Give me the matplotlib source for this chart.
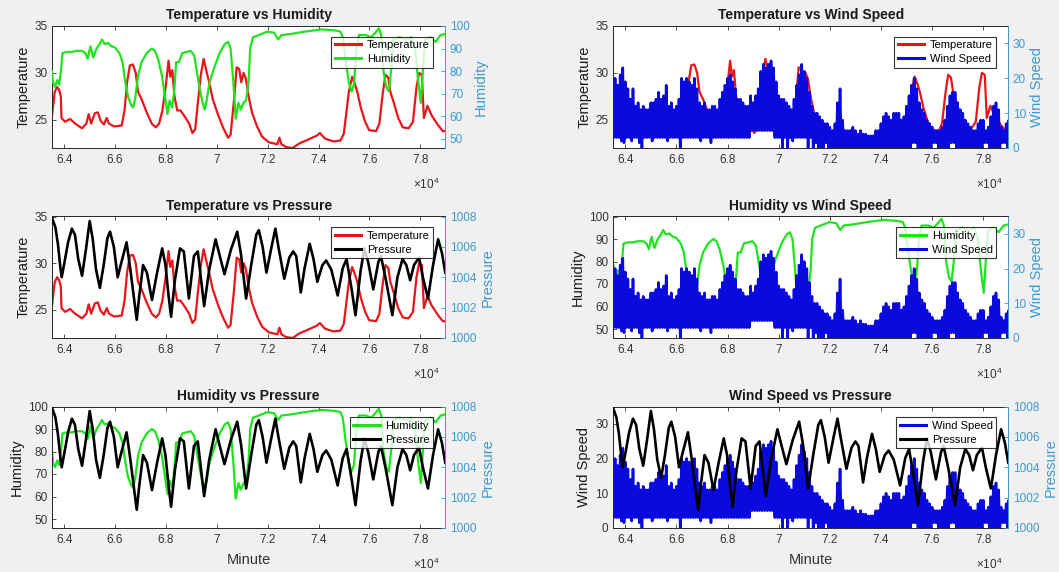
import numpy as np
import matplotlib
matplotlib.use('Agg')
import matplotlib.pyplot as plt

plt.rcParams['font.family'] = ['Liberation Sans', 'DejaVu Sans']
plt.rcParams['mathtext.fontset'] = 'custom'
plt.rcParams['mathtext.rm'] = 'Liberation Sans'
plt.rcParams['mathtext.it'] = 'Liberation Sans:italic'

### data (minutes)

temp_min = [63520, 63626, 63720, 63800, 63866, 63890, 64030, 64230, 64430, 64700,
            64870, 64960, 65060, 65200, 65320, 65430, 65560, 65670, 65760, 65960,
            66260, 66370, 66470, 66580, 66700, 66810, 66900, 67040, 67240, 67440,
            67600, 67730, 67860, 68000, 68100, 68170, 68250, 68330, 68440, 68570,
            68750, 68910, 69040, 69150, 69240, 69370, 69480, 69580, 69680, 69840,
            70040, 70240, 70440, 70540, 70670, 70780, 70880, 70960, 71050, 71140,
            71250, 71380, 71580, 71780, 72050, 72380, 72460, 72540, 72720, 72980,
            73250, 73590, 73920, 74050, 74250, 74590, 74860, 74990, 75080, 75190,
            75320, 75430, 75520, 75660, 75830, 75990, 76260, 76390, 76530, 76630,
            76740, 76820, 76960, 77130, 77310, 77540, 77710, 77850, 77950, 78060,
            78140, 78280, 78440, 78680, 78880, 78980]
temperature = [25.5, 28.0, 28.5, 28.2, 27.5, 25.2, 24.8, 25.1, 24.6, 24.1,
               24.6, 25.6, 24.6, 25.7, 25.8, 24.9, 24.5, 25.2, 24.6, 24.3,
               24.4, 26.0, 29.0, 30.8, 30.9, 30.0, 28.0, 27.2, 25.8, 24.6,
               24.2, 24.6, 26.0, 28.8, 31.3, 29.6, 30.3, 27.6, 26.0, 26.0,
               25.3, 24.6, 23.6, 24.0, 26.5, 29.8, 31.5, 30.3, 29.2, 27.2,
               25.6, 24.2, 23.1, 23.4, 27.0, 30.6, 30.4, 29.0, 30.0, 29.4,
               27.5, 25.8, 24.3, 23.2, 22.6, 22.4, 23.1, 22.4, 22.1, 22.0,
               22.5, 22.9, 23.3, 23.6, 23.0, 22.7, 22.8, 23.5, 25.5, 28.0,
               29.6, 28.8, 28.0, 26.3, 24.8, 23.9, 23.8, 24.6, 28.0, 29.8,
               29.5, 28.0, 26.8, 25.2, 24.2, 24.1, 24.8, 28.5, 30.0, 29.8,
               25.2, 26.5, 25.5, 24.5, 23.8, 23.8]

hum_min = [63520, 63560, 63640, 63720, 63800, 63870, 63930, 64090, 64290, 64490,
           64700, 64830, 64920, 65030, 65140, 65270, 65390, 65480, 65590, 65720,
           65860, 65990, 66170, 66290, 66390, 66500, 66630, 66710, 66790, 66900,
           67040, 67240, 67440, 67570, 67700, 67840, 67970, 68060, 68140, 68240,
           68330, 68400, 68510, 68640, 68800, 68970, 69110, 69210, 69330, 69440,
           69520, 69600, 69710, 69910, 70110, 70310, 70440, 70540, 70650, 70740,
           70850, 70940, 71050, 71150, 71250, 71310, 71420, 71650, 71980, 72250,
           72410, 72540, 72920, 73450, 74120, 74660, 74860, 74950, 75060, 75190,
           75290, 75390, 75490, 75590, 75860, 76060, 76230, 76370, 76460, 76550,
           76660, 76760, 76850, 76940, 77180, 77450, 77650, 77790, 77920, 78020,
           78100, 78190, 78390, 78600, 78800, 78980]
humidity = [80, 75, 73, 76, 74, 80, 88, 88.5, 88.5, 89,
            89, 88, 85.5, 91, 86, 90, 92, 94, 92, 92.5,
            91, 90.5, 88, 84, 76, 69, 65, 64, 68, 78,
            84, 88, 90, 89, 85, 78, 68, 61, 67, 64,
            72, 84, 84, 88, 88.5, 89, 87, 80, 72, 66,
            63, 67, 75, 82, 88, 92, 93, 90, 75, 59,
            66, 63, 66, 67, 76, 90, 95, 96, 97.5, 97,
            94, 96, 96.5, 97.5, 98.5, 98, 97.5, 95, 85, 75,
            71, 74, 90, 96, 96, 95, 97, 99, 96, 80,
            73, 71, 80, 94, 95, 94, 95, 90, 75, 66,
            80, 94, 95, 93, 96, 96.5]

pres_min = [63520, 63650, 63750, 63850, 63900, 64000, 64150, 64300, 64420, 64550,
            64700, 64850, 65000, 65120, 65250, 65400, 65550, 65700, 65800, 65950,
            66100, 66250, 66450, 66600, 66750, 66850, 66950, 67100, 67250, 67450,
            67650, 67850, 67980, 68100, 68200, 68350, 68550, 68700, 68900, 69100,
            69250, 69500, 69700, 69950, 70100, 70300, 70550, 70800, 70950, 71150,
            71350, 71550, 71650, 71800, 71950, 72150, 72300, 72420, 72650, 72850,
            73000, 73120, 73300, 73450, 73650, 73800, 73950, 74150, 74300, 74500,
            74750, 74950, 75100, 75300, 75450, 75650, 75800, 75950, 76150, 76350,
            76450, 76650, 76900, 77100, 77300, 77450, 77600, 77750, 77950, 78100,
            78300, 78500, 78700, 78850, 78980]
pressure = [1007.9, 1007.3, 1006.2, 1004.6, 1004.0, 1004.9, 1006.3, 1007.2, 1006.8, 1005.2,
            1004.1, 1005.8, 1007.7, 1006.5, 1004.5, 1003.3, 1004.8, 1006.6, 1007.0, 1006.0,
            1004.0, 1005.0, 1006.3, 1004.5, 1002.5, 1001.2, 1002.8, 1004.8, 1004.3, 1002.5,
            1004.3, 1005.9, 1004.8, 1002.8, 1001.4, 1003.8, 1005.9, 1005.7, 1002.6, 1005.4,
            1005.7, 1002.1, 1004.5, 1006.5, 1005.5, 1004.2, 1005.8, 1007.0, 1005.5, 1002.6,
            1004.8, 1006.8, 1007.1, 1006.0, 1004.3, 1006.0, 1007.2, 1006.0, 1003.9, 1005.3,
            1005.7, 1005.4, 1003.0, 1004.6, 1006.2, 1005.2, 1003.7, 1004.8, 1005.1, 1004.5,
            1002.8, 1004.6, 1005.2, 1003.2, 1001.5, 1004.4, 1005.9, 1005.0, 1003.2, 1005.0,
            1005.4, 1003.8, 1001.5, 1004.0, 1005.2, 1004.8, 1003.8, 1004.8, 1005.3, 1004.0,
            1002.6, 1004.8, 1006.5, 1005.6, 1004.3]

# wind speed is very noisy: upper / lower envelope every 100 min
wind_min = np.arange(63500, 79001, 100)
wind_hi = [16, 20, 18, 21, 23, 19, 17, 14, 17, 12,
           13, 11, 12, 11, 11, 13, 13, 14, 16, 14,
           15, 18, 12, 13, 11, 12, 14, 20, 19, 20,
           19, 18, 20, 17, 13, 12, 13, 11, 11, 12,
           12, 11, 14, 16, 18, 20, 21, 19, 17, 14,
           14, 13, 12, 12, 15, 13, 15, 17, 22, 24,
           23, 24, 25, 23, 19, 15, 14, 14, 13, 12,
           11, 14, 18, 21, 24, 22, 20, 16, 12, 10,
           10, 9, 8, 7, 7, 6, 5, 7, 13, 17,
           8, 5, 5, 5, 6, 5, 4, 5, 4, 4,
           3.5, 3.5, 3.5, 5, 5, 7, 9, 10, 9, 8,
           10, 10, 10, 8, 9, 12, 15, 18, 20, 17,
           13, 11, 10, 8, 7, 6, 5, 5, 5, 6,
           8, 12, 15, 16, 16, 13, 11, 10, 8, 7,
           6, 5, 5, 7, 8, 8, 5, 6, 9, 12,
           13, 11, 6, 5, 7, 8]
wind_lo = [3, 3, 3, 2, 1.5, 3, 3, 2, 3, 3,
           1.5, 0, 3, 3, 3, 2, 3, 3, 3, 3,
           3, 2, 3, 3, 3, 3, 0, 3, 3, 3,
           3, 3, 3, 3, 2, 3, 3, 3, 1.5, 3,
           3, 3, 3, 3, 3, 3, 3, 3, 3, 3,
           3, 3, 3, 3, 5, 5, 5, 5, 5, 5,
           5, 5, 5, 3, 3, 3, 0, 3, 0, 3,
           2, 3, 3, 3, 3, 3, 0, 3, 0, 1.5,
           0, 0, 0, 1.5, 0, 0, 0, 0, 0, 0,
           0, 0, 0, 0, 0, 0, 0, 0, 0, 0,
           0, 0, 0, 0, 0, 0, 0, 0, 0, 0,
           0, 0, 0, 0, 0, 0, 0, 1.5, 1.5, 0,
           0, 0, 0, 0, 0, 1.5, 1.5, 0, 0, 0,
           0, 0, 1.5, 1.5, 0, 0, 0, 0, 0, 0,
           0, 0, 0, 0, 0, 1.5, 1.5, 0, 0, 0,
           0, 0, 1.5, 1.5, 0, 0]

xticks = [64000, 66000, 68000, 70000, 72000, 74000, 76000, 78000]
xtick_labels = ['6.4', '6.6', '6.8', '7', '7.2', '7.4', '7.6', '7.8']

# zig-zag between the two envelopes so the band looks filled like the raw trace
wind_x = np.column_stack([wind_min, wind_min + 50]).ravel()
wind_y = np.column_stack([wind_hi, wind_lo]).ravel()

series = {
    'Temperature': (temp_min, temperature, '#e8161b', (22, 35), [25, 30, 35]),
    'Humidity': (hum_min, humidity, '#1ee41e', (46, 100), [50, 60, 70, 80, 90, 100]),
    'Wind Speed': (wind_x, wind_y, '#0a0ade', (0, 35), [0, 10, 20, 30]),
    'Pressure': (pres_min, pressure, '#000000', (1000, 1008), [1000, 1002, 1004, 1006, 1008]),
}
widths = {'Temperature': 1.6, 'Humidity': 1.6, 'Wind Speed': 1.9, 'Pressure': 1.9}

TXT = '#333333'
AX2 = '#3a9ad2'
W, H = 1059, 572

def px_rect(x0, y0, x1, y1):
    return [x0 / W, 1 - y1 / H, (x1 - x0) / W, (y1 - y0) / H]

rows = [(26, 148), (216.5, 338), (406.5, 528)]
cols = [(52.3, 445), (613.3, 1008)]

panels = [('Temperature', 'Humidity', 0, 0),
          ('Temperature', 'Wind Speed', 0, 1),
          ('Temperature', 'Pressure', 1, 0),
          ('Humidity', 'Wind Speed', 1, 1),
          ('Humidity', 'Pressure', 2, 0),
          ('Wind Speed', 'Pressure', 2, 1)]

fig = plt.figure(figsize=(W / 100, H / 100), dpi=100, facecolor='#f0f0f0')

for left, right, r, c in panels:
    ax = fig.add_axes(px_rect(cols[c][0], rows[r][0], cols[c][1], rows[r][1]))
    ax.set_facecolor('white')
    par = ax.twinx()

    xl, yl, cl, liml, tkl = series[left]
    xr, yr, cr, limr, tkr = series[right]
    p1, = ax.plot(xl, yl, color=cl, lw=widths[left], label=left)
    p2, = par.plot(xr, yr, color=cr, lw=widths[right], label=right)

    ax.set_xlim(63530, 78970)
    ax.set_ylim(*liml)
    ax.set_yticks(tkl)
    par.set_ylim(*limr)
    par.set_yticks(tkr)
    ax.set_xticks(xticks)
    ax.set_xticklabels(xtick_labels)

    ax.tick_params(axis='both', direction='in', length=3, width=0.6,
                   labelsize=8.5, colors=TXT, top=True, right=False)
    ax.tick_params(axis='x', pad=4)
    par.tick_params(axis='y', direction='in', length=3, width=0.6,
                    labelsize=8.5, colors=AX2)
    for sp in ['left', 'top', 'bottom']:
        ax.spines[sp].set_color('#262626')
        ax.spines[sp].set_linewidth(0.7)
        par.spines[sp].set_visible(False)
    ax.spines['right'].set_visible(False)
    par.spines['right'].set_color(AX2)
    par.spines['right'].set_linewidth(0.7)

    ax.set_ylabel(left, fontsize=10.5, color='#1a1a1a', labelpad=3)
    par.set_ylabel(right, fontsize=10.5, color=AX2, labelpad=3)
    ax.set_title(left + ' vs ' + right, fontsize=10, fontweight='bold',
                 color='#1a1a1a', pad=5)
    if r == 2:
        ax.set_xlabel('Minute', fontsize=10.5, color=TXT, labelpad=5)
    ax.text(0.987, -0.30, r'$\times10^{4}$', transform=ax.transAxes,
            ha='right', va='center', fontsize=8.5, color=TXT)

    leg = par.legend([p1, p2], [left, right], loc='upper right',
                     bbox_to_anchor=(0.97, 0.91), borderaxespad=0,
                     fontsize=8, frameon=True, fancybox=False,
                     handlelength=2.4, handletextpad=0.5,
                     labelspacing=0.35, borderpad=0.3)
    leg.get_frame().set_edgecolor('black')
    leg.get_frame().set_linewidth(0.8)
    for h in leg.get_lines():
        h.set_linewidth(2.2)

fig.savefig('out.png', dpi=100, facecolor=fig.get_facecolor())
